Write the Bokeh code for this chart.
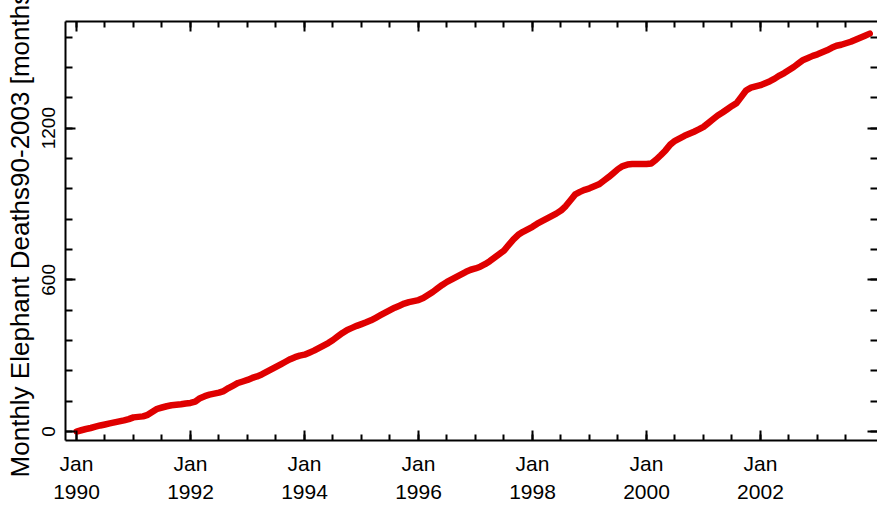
from bokeh.plotting import figure
from bokeh.models import Range1d, LinearAxis, FixedTicker
from bokeh.embed import file_html
from bokeh.resources import INLINE

# Monthly cumulative elephant deaths, Jan 1990 - Dec 2003
years = list(range(1990, 2004))
deaths_1990 = [0, 5, 10, 14, 19, 24, 28, 32, 36, 40, 44, 49]
deaths_1991 = [56, 58, 60, 66, 78, 90, 95, 100, 104, 106, 108, 111]
deaths_1992 = [113, 118, 132, 140, 146, 150, 154, 160, 172, 182, 192, 198]
deaths_1993 = [204, 212, 218, 226, 236, 246, 256, 266, 276, 286, 294, 300]
deaths_1994 = [304, 312, 320, 330, 340, 350, 362, 376, 390, 402, 410, 418]
deaths_1995 = [425, 432, 440, 450, 460, 470, 480, 490, 498, 506, 512, 516]
deaths_1996 = [520, 528, 540, 552, 566, 580, 592, 602, 612, 622, 632, 640]
deaths_1997 = [645, 652, 662, 674, 688, 702, 716, 738, 760, 778, 790, 800]
deaths_1998 = [810, 822, 832, 842, 852, 862, 874, 892, 915, 938, 948, 956]
deaths_1999 = [962, 970, 978, 992, 1006, 1022, 1038, 1050, 1056, 1058, 1058, 1058]
deaths_2000 = [1058, 1060, 1075, 1093, 1112, 1135, 1150, 1160, 1170, 1178, 1186, 1195]
deaths_2001 = [1205, 1220, 1235, 1250, 1262, 1275, 1288, 1300, 1325, 1350, 1360, 1365]
deaths_2002 = [1370, 1378, 1386, 1396, 1408, 1418, 1430, 1442, 1456, 1470, 1478, 1486]
deaths_2003 = [1492, 1500, 1508, 1518, 1526, 1530, 1536, 1542, 1550, 1558, 1566, 1574]

by_year = [deaths_1990, deaths_1991, deaths_1992, deaths_1993, deaths_1994,
           deaths_1995, deaths_1996, deaths_1997, deaths_1998, deaths_1999,
           deaths_2000, deaths_2001, deaths_2002, deaths_2003]

# month positions as decimal years
t = []
deaths = []
for yr, vals in zip(years, by_year):
    for m, v in enumerate(vals):
        t.append(yr + m / 12.0)
        deaths.append(v)

x_major = [1990, 1992, 1994, 1996, 1998, 2000, 2002]
x_minor = [y + h for y in years for h in (0.0, 0.5)]
x_labels = {float(y): "Jan\n%d" % y for y in x_major}
y_major = [0, 600, 1200]
y_minor = [0, 120, 240, 360, 480, 600, 720, 840, 960, 1080, 1200, 1320, 1440, 1560]

FONT = "Liberation Sans"

p = figure(width=877, height=506, output_backend="svg", toolbar_location=None,
           x_range=Range1d(1989.807, 2004.053), y_range=Range1d(-35.5, 1622),
           min_border_left=65, min_border_right=0, min_border_top=21,
           min_border_bottom=65, x_axis_location=None, y_axis_location=None)
p.outline_line_color = None
p.xgrid.visible = False
p.ygrid.visible = False
p.background_fill_color = "white"
p.border_fill_color = "white"

p.line(t, deaths, line_color="#df0000", line_width=6.5, line_join="round",
       line_cap="round")


def style_axis(ax, major, minor, line=True):
    ax.ticker = FixedTicker(ticks=major, minor_ticks=minor)
    ax.axis_line_color = "black" if line else None
    ax.axis_line_width = 2
    ax.major_tick_in = 10
    ax.major_tick_out = 0
    ax.minor_tick_in = 6
    ax.minor_tick_out = 0
    ax.major_tick_line_color = "black"
    ax.minor_tick_line_color = "black"
    ax.major_tick_line_width = 2
    ax.minor_tick_line_width = 2


def tick_only(ax, major):
    # mirrored axis: ticks without labels
    ax.major_label_overrides = {float(v): "" for v in major}
    ax.major_label_standoff = 0


bottom = LinearAxis()
style_axis(bottom, x_major, x_minor)
bottom.major_label_overrides = x_labels
bottom.major_label_text_font = FONT
bottom.major_label_text_font_size = "21px"
bottom.major_label_text_color = "black"
bottom.major_label_text_line_height = 1.25
bottom.major_label_standoff = 11
p.add_layout(bottom, "below")

top = LinearAxis()
style_axis(top, x_major, x_minor)
tick_only(top, x_major)
p.add_layout(top, "above")

left = LinearAxis()
style_axis(left, y_major, y_minor)
left.minor_tick_in = 7
left.major_label_orientation = "vertical"
left.major_label_text_font = FONT
left.major_label_text_font_size = "19px"
left.major_label_text_color = "black"
left.major_label_text_line_height = 1.0
left.major_label_standoff = 10
left.axis_label = "Monthly Elephant Deaths90-2003 [months]"
left.axis_label_text_font = FONT
left.axis_label_text_font_size = "26px"
left.axis_label_text_font_style = "normal"
left.axis_label_text_color = "black"
left.axis_label_text_line_height = 1.0
left.axis_label_standoff = 5
p.add_layout(left, "left")

right = LinearAxis()
style_axis(right, y_major, y_minor, line=False)
right.minor_tick_in = 7
tick_only(right, y_major)
p.add_layout(right, "right")

open("out.html", "w").write(file_html(p, INLINE))
